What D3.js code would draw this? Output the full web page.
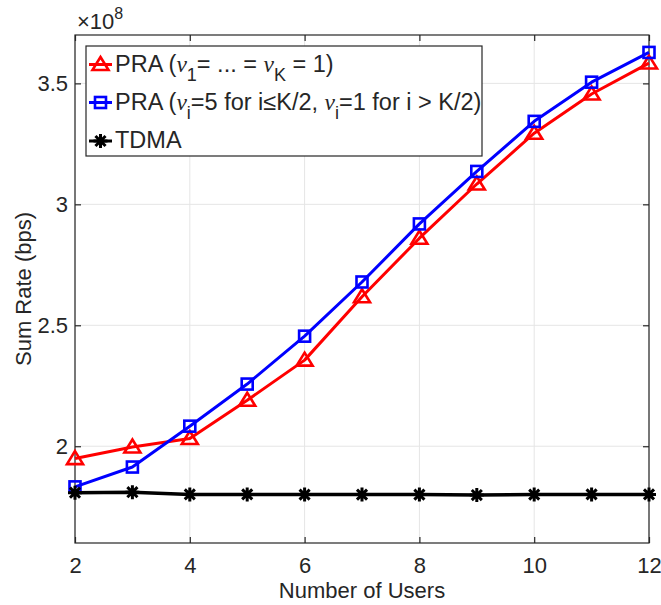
<!DOCTYPE html>
<html>
<head>
<meta charset="utf-8">
<script src="https://cdn.jsdelivr.net/npm/d3@7"></script>
<style>
  html, body { margin: 0; padding: 0; background: #fff; }
  svg { display: block; }
  text { font-family: "Liberation Sans", Arial, sans-serif; fill: #262626; }
</style>
</head>
<body>
<svg id="chart" width="661" height="605"></svg>
<script>
// Number of users on the x axis
const users = [2, 3, 4, 5, 6, 7, 8, 9, 10, 11, 12];

// Sum rate in units of 1e8 bps
const praEqual = [1.949, 1.997, 2.032, 2.190, 2.356, 2.618, 2.860, 3.084, 3.294, 3.456, 3.584];
const praWeighted = [1.832, 1.914, 2.083, 2.257, 2.455, 2.679, 2.919, 3.136, 3.343, 3.505, 3.628];
const tdma = [1.808, 1.810, 1.801, 1.801, 1.800, 1.800, 1.800, 1.798, 1.800, 1.801, 1.801];

const xTicks = [2, 4, 6, 8, 10, 12];
const yTicks = [2, 2.5, 3, 3.5];
const yTickLabels = ["2", "2.5", "3", "3.5"];

const svg = d3.select("#chart");
const plotL = 75, plotR = 649, plotT = 35, plotB = 543;

const x = d3.scaleLinear().domain([2, 12]).range([plotL, plotR]);
const y = d3.scaleLinear().domain([1.6, 3.7]).range([plotB, plotT]);

const axisColor = "#262626";
const gridColor = "#e5e5e5";
const fontSize = 22;
const legendFont = 23.5;

// grid
const grid = svg.append("g");
grid.selectAll("line.gx").data(xTicks).join("line")
  .attr("x1", d => x(d)).attr("x2", d => x(d))
  .attr("y1", plotT).attr("y2", plotB)
  .attr("stroke", gridColor).attr("stroke-width", 1);
grid.selectAll("line.gy").data(yTicks).join("line")
  .attr("y1", d => y(d)).attr("y2", d => y(d))
  .attr("x1", plotL).attr("x2", plotR)
  .attr("stroke", gridColor).attr("stroke-width", 1);

// axes with inward ticks on all four sides
const tickLen = 6;
const xAxisB = d3.axisBottom(x).tickValues(xTicks).tickSize(-tickLen).tickPadding(14).tickFormat(d3.format("d"));
const xAxisT = d3.axisTop(x).tickValues(xTicks).tickSize(-tickLen).tickFormat("");
const yAxisL = d3.axisLeft(y).tickValues(yTicks).tickSize(-tickLen).tickPadding(7)
  .tickFormat((d, i) => yTickLabels[i]);
const yAxisR = d3.axisRight(y).tickValues(yTicks).tickSize(-tickLen).tickFormat("");

function styleAxis(g) {
  g.select(".domain").remove();
  g.selectAll(".tick line").attr("stroke", axisColor).attr("stroke-width", 1.2);
  g.selectAll(".tick text").attr("fill", axisColor)
    .style("font-family", "'Liberation Sans', Arial, sans-serif")
    .style("font-size", fontSize + "px");
}

svg.append("g").attr("transform", `translate(0,${plotB})`).call(xAxisB).call(styleAxis);
svg.append("g").attr("transform", `translate(0,${plotT})`).call(xAxisT).call(styleAxis);
svg.append("g").attr("transform", `translate(${plotL},0)`).call(yAxisL).call(styleAxis);
svg.append("g").attr("transform", `translate(${plotR},0)`).call(yAxisR).call(styleAxis);
// box outline
svg.append("rect").attr("x", plotL).attr("y", plotT)
  .attr("width", plotR - plotL).attr("height", plotB - plotT)
  .attr("fill", "none").attr("stroke", axisColor).attr("stroke-width", 1.2);

// exponent label
const expo = svg.append("text").attr("x", 77).attr("y", 29).style("font-size", fontSize + "px");
expo.append("tspan").text("×10");
expo.append("tspan").attr("dy", -10).style("font-size", "16px").text("8");

// axis titles
svg.append("text").attr("x", (plotL + plotR) / 2).attr("y", 598)
  .attr("text-anchor", "middle").style("font-size", fontSize + "px").text("Number of Users");
svg.append("text").attr("transform", `translate(31,${(plotT + plotB) / 2}) rotate(-90)`)
  .attr("text-anchor", "middle").style("font-size", fontSize + "px").text("Sum Rate (bps)");

// series
const series = [
  { name: "pra1", values: praEqual, color: "#ff0000", marker: "triangle" },
  { name: "pra2", values: praWeighted, color: "#0000ff", marker: "square" },
  { name: "tdma", values: tdma, color: "#000000", marker: "star" }
];

const line = d3.line().x(d => x(d[0])).y(d => y(d[1]));

function drawMarker(g, type, color) {
  if (type === "triangle") {
    g.append("path").attr("d", "M0,-7.5 L8,5.5 L-8,5.5 Z")
      .attr("fill", "none").attr("stroke", color).attr("stroke-width", 2.6)
      .attr("stroke-linejoin", "miter");
  } else if (type === "square") {
    g.append("rect").attr("x", -5.5).attr("y", -5.5).attr("width", 11).attr("height", 11)
      .attr("fill", "none").attr("stroke", color).attr("stroke-width", 2.6);
  } else {
    const r = 7, d = r * 0.72;
    const p = `M${-r},0 L${r},0 M0,${-r} L0,${r} M${-d},${-d} L${d},${d} M${-d},${d} L${d},${-d}`;
    g.append("path").attr("d", p).attr("stroke", color).attr("stroke-width", 3);
  }
}

series.forEach(s => {
  const pts = users.map((u, i) => [u, s.values[i]]);
  svg.append("path").datum(pts).attr("d", line)
    .attr("fill", "none").attr("stroke", s.color).attr("stroke-width", s.marker === "star" ? 3.5 : 3)
    .attr("stroke-linejoin", "round");
  pts.forEach(p => {
    const g = svg.append("g").attr("transform", `translate(${x(p[0])},${y(p[1])})`);
    drawMarker(g, s.marker, s.color);
  });
});

// legend
const lg = svg.append("g");
lg.append("rect").attr("x", 86).attr("y", 46).attr("width", 396).attr("height", 110)
  .attr("fill", "#fff").attr("stroke", axisColor).attr("stroke-width", 1.2);

const rowsY = [71.5, 109.5, 148];
const serifIt = "'Liberation Serif', 'Times New Roman', serif";

function addNu(t, sub) {
  t.append("tspan").style("font-family", serifIt).style("font-style", "italic").text("ν");
  t.append("tspan").attr("dy", 9).style("font-size", "18px").text(sub);
}

rowsY.forEach((by, i) => {
  const s = series[i];
  const ly = by - 7;
  lg.append("line").attr("x1", 89).attr("x2", 112).attr("y1", ly).attr("y2", ly)
    .attr("stroke", s.color).attr("stroke-width", 3);
  const g = lg.append("g").attr("transform", `translate(100.5,${ly})`);
  drawMarker(g, s.marker, s.color);
});

const t1 = lg.append("text").attr("x", 115).attr("y", rowsY[0]).style("font-size", legendFont + "px");
t1.append("tspan").text("PRA (");
addNu(t1, "1");
t1.append("tspan").attr("dy", -9).text("= ... = ");
addNu(t1, "K");
t1.append("tspan").attr("dy", -9).text(" = 1)");

const t2 = lg.append("text").attr("x", 115).attr("y", rowsY[1]).style("font-size", legendFont + "px");
t2.append("tspan").text("PRA (");
addNu(t2, "i");
t2.append("tspan").attr("dy", -9).text("=5 for i≤K/2, ");
addNu(t2, "i");
t2.append("tspan").attr("dy", -9).text("=1 for i > K/2)");

lg.append("text").attr("x", 115).attr("y", rowsY[2]).style("font-size", legendFont + "px").text("TDMA");
</script>
</body>
</html>
